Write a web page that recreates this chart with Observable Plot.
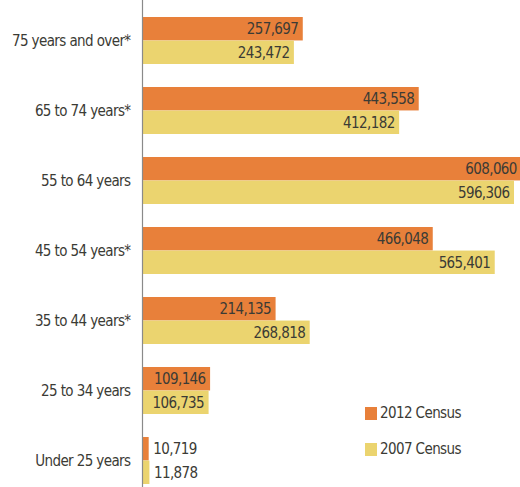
<!DOCTYPE html>
<html><head><meta charset="utf-8">
<script src="https://cdn.jsdelivr.net/npm/d3@7"></script>
<script src="https://cdn.jsdelivr.net/npm/@observablehq/plot@0.6"></script>
<style>
body{margin:0;background:#fff}
#wrap{position:relative;width:520px;height:487px;overflow:hidden}
#wrap svg text{letter-spacing:-0.6px}
.lg{position:absolute;left:365px;font-family:"Liberation Sans Narrow","DejaVu Sans Condensed",sans-serif;font-stretch:condensed;font-size:15px;letter-spacing:-0.6px;color:#3b3b35;display:flex;align-items:center;white-space:nowrap}
.lg span.sw{display:inline-block;width:12px;height:13px;margin-right:3px}
</style></head><body><div id="wrap"></div>
<script>
const categories = ["75 years and over*","65 to 74 years*","55 to 64 years","45 to 54 years*","35 to 44 years*","25 to 34 years","Under 25 years"];
const census2012 = [257697, 443558, 608060, 466048, 214135, 109146, 10719];
const census2007 = [243472, 412182, 596306, 565401, 268818, 106735, 11878];
const seriesNames = ["2012 Census","2007 Census"];
const seriesColors = ["#E8803A","#EBD46F"];

const H = 487, W = 520;
const pInner = 0.33, pOuter = 0.128;
const step = H / (categories.length - pInner + 2 * pOuter);
const bw = step * (1 - pInner);
const half = bw / 2;

const data = [];
categories.forEach((c, i) => {
  data.push({category: c, series: seriesNames[0], value: census2012[i], top: true});
  data.push({category: c, series: seriesNames[1], value: census2007[i], top: false});
});
const fmt = d3.format(",");
const font = '"Liberation Sans Narrow","DejaVu Sans Condensed",sans-serif';
const big = d => d.value >= 50000;

const chart = Plot.plot({
  width: W, height: H,
  marginLeft: 142, marginRight: 0, marginTop: 0, marginBottom: 0,
  style: {fontFamily: font, fontSize: "15px", color: "#3b3b35", background: "#fff", fontStretch: "condensed"},
  x: {domain: [0, 605900], axis: null},
  y: {domain: categories, paddingInner: pInner, paddingOuter: pOuter, align: 0.83, label: null, tickSize: 0, tickPadding: 12},
  color: {domain: seriesNames, range: seriesColors},
  marks: [
    Plot.barX(data.filter(d => d.top), {x: "value", y: "category", fill: "series", insetBottom: half}),
    Plot.barX(data.filter(d => !d.top), {x: "value", y: "category", fill: "series", insetTop: half}),
    Plot.text(data.filter(d => d.top && big(d)), {x: "value", y: "category", text: d => fmt(d.value), textAnchor: "end", dx: -5, dy: -half / 2, fill: "#3b3b35", fontSize: 15}),
    Plot.text(data.filter(d => !d.top && big(d)), {x: "value", y: "category", text: d => fmt(d.value), textAnchor: "end", dx: -5, dy: half / 2, fill: "#3b3b35", fontSize: 15}),
    Plot.text(data.filter(d => d.top && !big(d)), {x: "value", y: "category", text: d => fmt(d.value), textAnchor: "start", dx: 4, dy: -half / 2, fill: "#3b3b35", fontSize: 15}),
    Plot.text(data.filter(d => !d.top && !big(d)), {x: "value", y: "category", text: d => fmt(d.value), textAnchor: "start", dx: 4, dy: half / 2, fill: "#3b3b35", fontSize: 15}),
    Plot.ruleX([0], {stroke: "#8a8a8a", strokeWidth: 1.2})
  ]
});
const wrap = document.getElementById("wrap");
wrap.appendChild(chart);
const tops = [404, 440];
seriesNames.forEach((s, i) => {
  const el = document.createElement("div");
  el.className = "lg";
  el.style.top = tops[i] + "px";
  el.innerHTML = `<span class="sw" style="background:${seriesColors[i]}"></span>${s}`;
  wrap.appendChild(el);
});
</script></body></html>
